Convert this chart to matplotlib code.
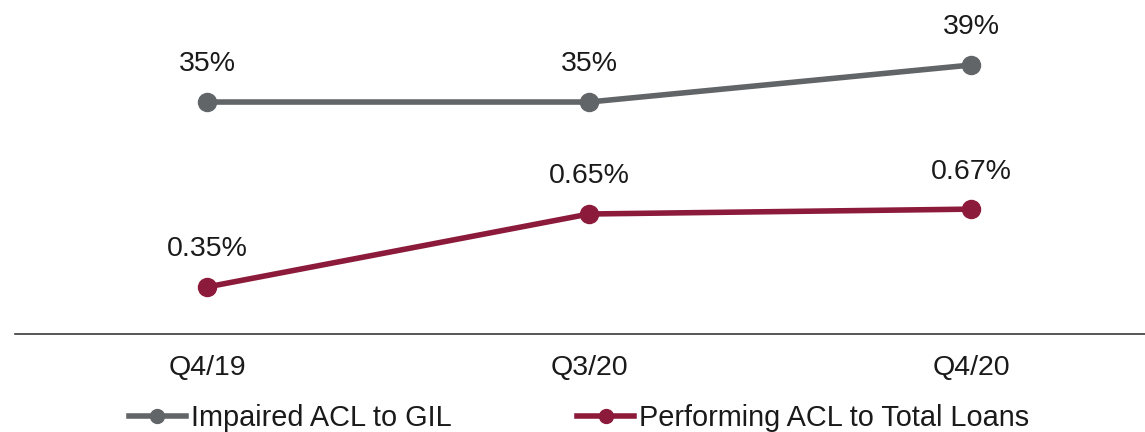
import matplotlib
matplotlib.use("Agg")
import matplotlib.pyplot as plt
from matplotlib.lines import Line2D

categories = ["Q4/19", "Q3/20", "Q4/20"]
impaired_acl_to_gil = [35, 35, 39]
performing_acl_to_loans = [0.35, 0.65, 0.67]
impaired_labels = ["35%", "35%", "39%"]
performing_labels = ["0.35%", "0.65%", "0.67%"]
series_names = ["Impaired ACL to GIL", "Performing ACL to Total Loans"]

GRAY = "#616568"
RED = "#8C1A3B"
TEXT = "#1a1a1a"
FONT = "Liberation Sans"

W, H = 1145, 432
fig = plt.figure(figsize=(W / 100, H / 100), dpi=100)
ax = fig.add_axes([15 / W, 1 - 334 / H, 1130 / W, 334 / H])
ax2 = ax.twinx()

x = list(range(len(categories)))
ax.plot(x, impaired_acl_to_gil, color=GRAY, lw=4, marker="o", ms=13,
        clip_on=False, zorder=3, solid_capstyle="butt")
ax2.plot(x, performing_acl_to_loans, color=RED, lw=4, marker="o", ms=13,
         clip_on=False, zorder=3, solid_capstyle="butt")

ax.set_xlim(-0.5026, 2.455)
ax.set_ylim(9.92, 46.03)
ax2.set_ylim(0.1568, 1.5295)

for xi, v, lab in zip(x, impaired_acl_to_gil, impaired_labels):
    ax.annotate(lab, (xi, v), xytext=(0, 27.5), textcoords="offset points",
                ha="center", va="center", fontsize=20.5, family=FONT, color=TEXT)
for xi, v, lab in zip(x, performing_acl_to_loans, performing_labels):
    ax2.annotate(lab, (xi, v), xytext=(0, 27), textcoords="offset points",
                 ha="center", va="center", fontsize=20.5, family=FONT, color=TEXT)

for a in (ax, ax2):
    for s in ("top", "right", "left"):
        a.spines[s].set_visible(False)
    a.set_yticks([])
    a.patch.set_visible(False)
ax2.spines["bottom"].set_visible(False)
ax.spines["bottom"].set_color("#3a3a3a")
ax.spines["bottom"].set_linewidth(1.2)

ax.set_xticks(x)
ax.set_xticklabels(categories, fontsize=20.5, family=FONT, color=TEXT)
ax.tick_params(axis="x", length=0, pad=15)

handles = [
    Line2D([], [], color=GRAY, lw=4, marker="o", ms=10),
    Line2D([], [], color=RED, lw=4, marker="o", ms=10),
]
fig.legend(handles, series_names, loc="center", ncol=2,
           bbox_to_anchor=(579 / W, 1 - 418 / H), frameon=False,
           prop={"family": FONT, "size": 20.8},
           handlelength=1.97, handletextpad=0.17, columnspacing=4.36,
           borderpad=0, labelcolor=TEXT)

fig.savefig("out.png", dpi=100)
